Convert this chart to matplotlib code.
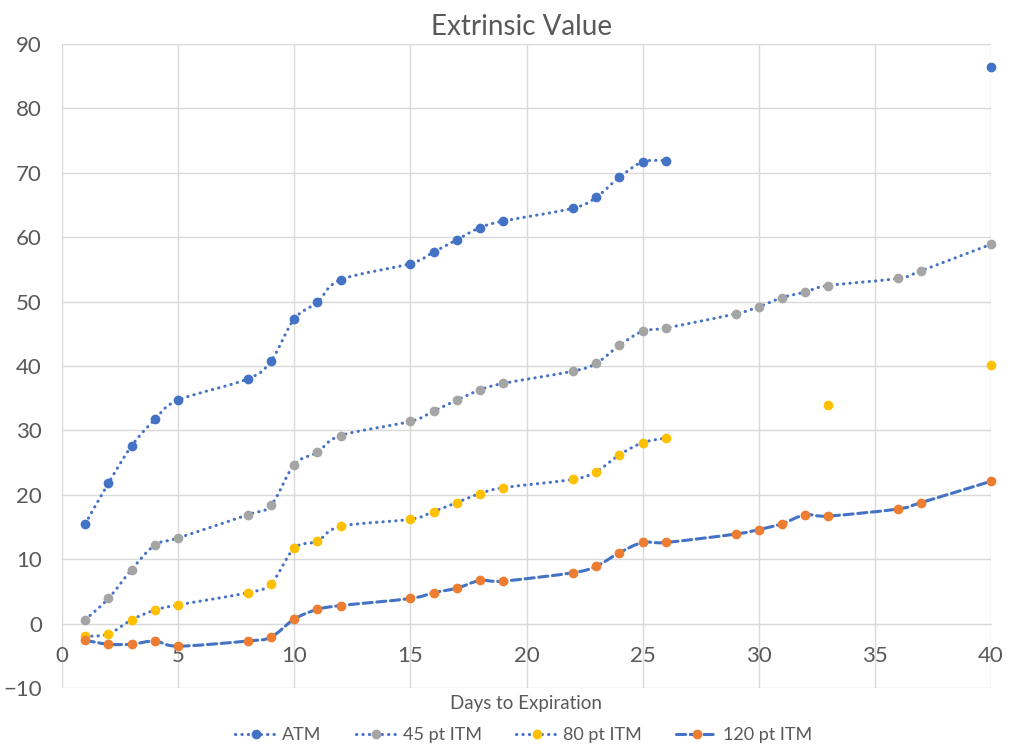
import numpy as np
import matplotlib.pyplot as plt
from matplotlib.path import Path
from matplotlib.patches import PathPatch
from matplotlib.lines import Line2D

plt.rcParams['font.family'] = ['Lato', 'DejaVu Sans']

nan = np.nan
days = [1, 2, 3, 4, 5, 8, 9, 10, 11, 12, 15, 16, 17, 18, 19, 22, 23, 24, 25, 26,
        29, 30, 31, 32, 33, 36, 37, 40]
atm = [15.5, 21.8, 27.6, 31.7, 34.7, 38.0, 40.8, 47.3, 49.9, 53.4, 55.9, 57.7, 59.6, 61.5,
       62.5, 64.5, 66.2, 69.3, 71.7, 71.9, nan, nan, nan, nan, nan, nan, nan, 86.5]
itm45 = [0.6, 3.9, 8.4, 12.2, 13.3, 16.9, 18.4, 24.7, 26.6, 29.2, 31.4, 33.0, 34.7, 36.3,
         37.3, 39.2, 40.4, 43.2, 45.4, 45.9, 48.1, 49.2, 50.6, 51.5, 52.5, 53.6, 54.8, 58.9]
itm80 = [-2.0, -1.6, 0.6, 2.1, 2.9, 4.8, 6.2, 11.7, 12.8, 15.1, 16.2, 17.4, 18.8, 20.2,
         21.1, 22.4, 23.6, 26.2, 28.1, 28.8, nan, nan, nan, nan, 34.0, nan, nan, 40.2]
itm120 = [-2.6, -3.2, -3.2, -2.7, -3.5, -2.7, -2.1, 0.7, 2.2, 2.8, 3.9, 4.8, 5.5, 6.7,
          6.6, 7.9, 8.9, 11.0, 12.6, 12.6, 13.9, 14.6, 15.5, 16.9, 16.7, 17.8, 18.8, 22.1]

names = ["ATM", "45 pt ITM", "80 pt ITM", "120 pt ITM"]
series = [atm, itm45, itm80, itm120]
marker_colors = ["#4472C4", "#A5A5A5", "#FFC000", "#ED7D31"]
line_color = "#4472C4"
dotted = (0, (0.1, 2.0))
dashed = (0, (3.0, 1.5))
styles = [dotted, dotted, dotted, dashed]


def smooth_path(x, y):
    # Excel-style smoothed line: bezier through the points, broken at gaps
    x = np.asarray(x, float)
    y = np.asarray(y, float)
    ok = ~np.isnan(y)
    verts, codes = [], []
    i, n = 0, len(x)
    while i < n:
        if not ok[i]:
            i += 1
            continue
        j = i
        while j + 1 < n and ok[j + 1]:
            j += 1
        px, py = x[i:j + 1], y[i:j + 1]
        if len(px) > 1:
            verts.append((px[0], py[0]))
            codes.append(Path.MOVETO)
            m = len(px)
            for k in range(m - 1):
                k0 = max(k - 1, 0)
                k3 = min(k + 2, m - 1)
                c1 = (px[k] + (px[k + 1] - px[k0]) / 6, py[k] + (py[k + 1] - py[k0]) / 6)
                c2 = (px[k + 1] - (px[k3] - px[k]) / 6, py[k + 1] - (py[k3] - py[k]) / 6)
                verts += [c1, c2, (px[k + 1], py[k + 1])]
                codes += [Path.CURVE4] * 3
        i = j + 1
    return Path(verts, codes)


fig = plt.figure(figsize=(10.24, 7.48), dpi=100)
ax = fig.add_axes([62 / 1024, 60 / 748, 929 / 1024, 644 / 748])

text_color = "#595959"
grid_color = "#D9D9D9"

for vals, mc, ls in zip(series, marker_colors, styles):
    patch = PathPatch(smooth_path(days, vals), fill=False, edgecolor=line_color,
                      linewidth=2.2, linestyle=ls, capstyle='round', zorder=3)
    ax.add_patch(patch)
    ax.plot(days, vals, linestyle='none', marker='o', markersize=6,
            markerfacecolor=mc, markeredgecolor=mc, zorder=4, clip_on=False)

ax.set_xlim(0, 40)
ax.set_ylim(-10, 90)
ax.set_xticks(range(0, 41, 5))
ax.set_yticks(range(-10, 91, 10))
ax.grid(True, color=grid_color, linewidth=1)
ax.set_axisbelow(True)
for s in ['top', 'right', 'left']:
    ax.spines[s].set_visible(False)
ax.spines['bottom'].set_position(('data', 0))
ax.spines['bottom'].set_color(grid_color)
ax.tick_params(length=0, labelsize=16, labelcolor=text_color)
ax.tick_params(axis='y', pad=14.5)
ax.tick_params(axis='x', pad=16)

fig.text(522 / 1024, 1 - 35 / 748, "Extrinsic Value", ha='center', va='baseline',
         fontsize=20, color=text_color)
fig.text(526 / 1024, 1 - 704 / 748, "Days to Expiration", ha='center', va='center',
         fontsize=13.5, color=text_color)

handles = [Line2D([], [], color=line_color, linewidth=2.2, linestyle=ls,
                  dash_capstyle='round', marker='o', markersize=6,
                  markerfacecolor=mc, markeredgecolor=mc)
           for mc, ls in zip(marker_colors, styles)]
fig.legend(handles, names, loc='center', bbox_to_anchor=(523.5 / 1024, 1 - 735 / 748),
           ncol=4, frameon=False, fontsize=13, labelcolor=text_color, handlelength=2.3,
           columnspacing=1.9, handletextpad=0.3)

fig.savefig("out.png", dpi=100)
